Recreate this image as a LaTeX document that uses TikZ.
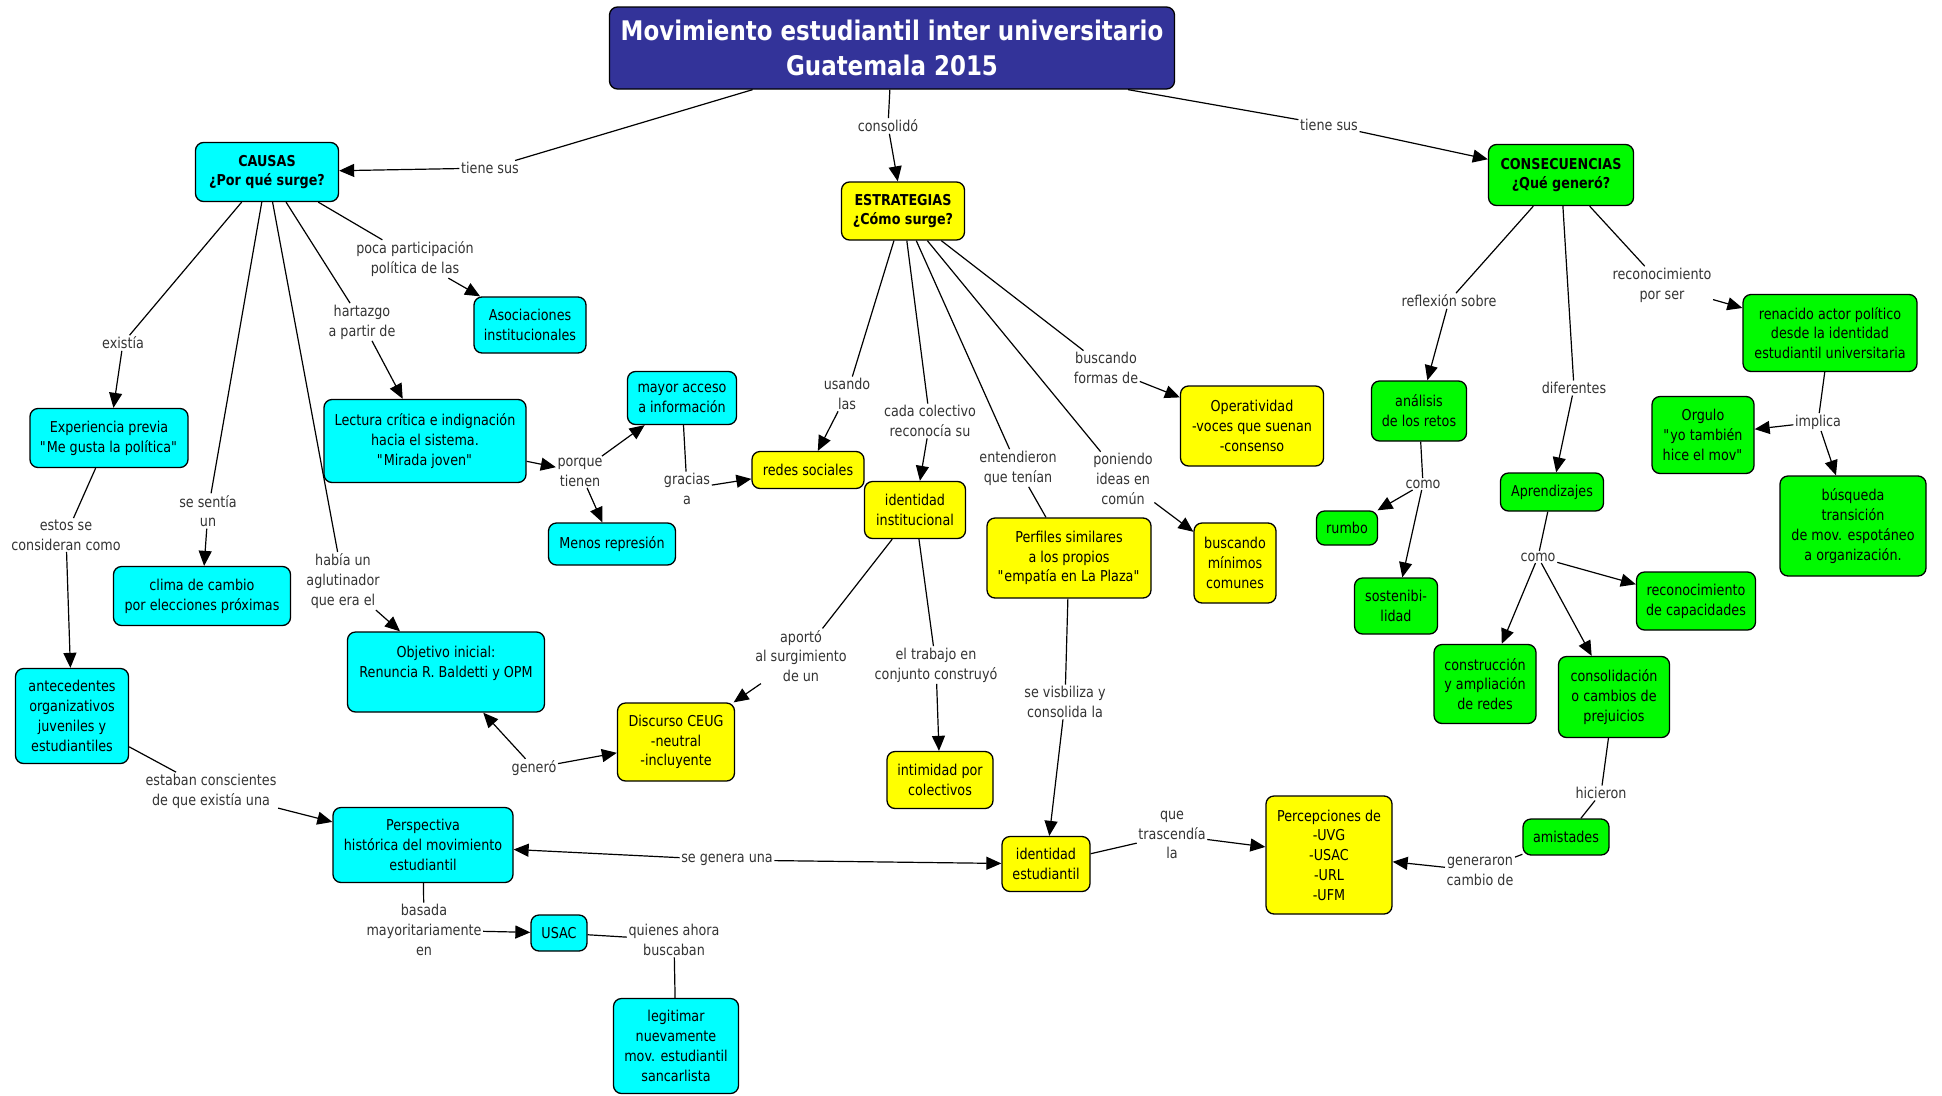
\documentclass[tikz,border=0pt]{standalone}
\usepackage{fontspec}
\setmainfont{DejaVu Sans}[FakeStretch=0.85]
\usepackage{tikz}
\usetikzlibrary{arrows.meta}
\definecolor{cmcyan}{RGB}{0,255,255}
\definecolor{cmyellow}{RGB}{255,255,0}
\definecolor{cmgreen}{RGB}{0,250,0}
\definecolor{cmtitle}{RGB}{51,51,153}
\newcommand{\qt}[1]{\textquotedbl#1\textquotedbl}
\tikzset{
  concept/.style  = {draw=black, line width=1.3pt, rounded corners=8pt, align=center,
                     inner sep=2pt, font=\fontsize{15}{19.8}\selectfont},
  cbox/.style     = {concept, fill=cmcyan},
  ybox/.style     = {concept, fill=cmyellow},
  gbox/.style     = {concept, fill=cmgreen},
  titlebox/.style = {concept, fill=cmtitle, text=white,
                     font=\fontsize{27}{35}\selectfont\bfseries},
  phrase/.style   = {align=center, inner sep=1.5pt, text=black!80,
                     font=\fontsize{15}{19.8}\selectfont},
  wire/.style     = {line width=1.2pt},
  vec/.style      = {wire, -{Triangle[length=15pt,width=13pt]}},
}

\begin{document}
\begin{tikzpicture}[x=1pt,y=-1pt]
  \useasboundingbox (0,0) rectangle (1942,1095);

  % concepts
  \node[titlebox, minimum width=565pt, minimum height=82pt] (mov) at (892,48)
    {Movimiento estudiantil inter universitario\\Guatemala 2015};
  \node[cbox, minimum width=143pt, minimum height=59pt] (causas) at (267,172)
    {\textbf{CAUSAS}\\\textbf{¿Por qué surge?}};
  \node[ybox, minimum width=123pt, minimum height=58pt] (estrat) at (903,211)
    {\textbf{ESTRATEGIAS}\\\textbf{¿Cómo surge?}};
  \node[gbox, minimum width=145pt, minimum height=61pt] (consec) at (1561,175)
    {\textbf{CONSECUENCIAS}\\\textbf{¿Qué generó?}};

  \node[cbox, minimum width=112pt, minimum height=56pt] (asoc) at (530,325)
    {Asociaciones\\institucionales};
  \node[cbox, minimum width=158pt, minimum height=59pt] (exper) at (109,438)
    {Experiencia previa\\\qt{Me gusta la política}};
  \node[cbox, minimum width=202pt, minimum height=83pt] (lectura) at (425,441)
    {Lectura crítica e indignación\\hacia el sistema.\\\qt{Mirada joven}};
  \node[cbox, minimum width=109pt, minimum height=53pt] (acceso) at (682,398)
    {mayor acceso\\a información};
  \node[cbox, minimum width=127pt, minimum height=42pt] (menos) at (612,544)
    {Menos represión};
  \node[cbox, minimum width=177pt, minimum height=59pt] (clima) at (202,596)
    {clima de cambio\\por elecciones próximas};
  \node[cbox, minimum width=197pt, minimum height=80pt] (objetivo) at (446,672)
    {Objetivo inicial:\\Renuncia R. Baldetti y OPM\\~};
  \node[cbox, minimum width=113pt, minimum height=95pt] (antec) at (72,716)
    {antecedentes\\organizativos\\juveniles y\\estudiantiles};
  \node[cbox, minimum width=180pt, minimum height=75pt] (perspect) at (423,845)
    {Perspectiva\\histórica del movimiento\\estudiantil};
  \node[cbox, minimum width=56pt, minimum height=36pt] (usac) at (559,933) {USAC};
  \node[cbox, minimum width=125pt, minimum height=95pt] (legit) at (676,1046)
    {legitimar\\nuevamente\\mov. estudiantil\\sancarlista};

  \node[ybox, minimum width=112pt, minimum height=37pt] (redes) at (808,470)
    {redes sociales};
  \node[ybox, minimum width=101pt, minimum height=57pt] (idinst) at (915,510)
    {identidad\\institucional};
  \node[ybox, minimum width=143pt, minimum height=80pt] (operat) at (1252,426)
    {Operatividad\\-voces que suenan\\-consenso};
  \node[ybox, minimum width=82pt, minimum height=80pt] (minimos) at (1235,563)
    {buscando\\mínimos\\comunes};
  \node[ybox, minimum width=164pt, minimum height=80pt] (perfiles) at (1069,558)
    {Perfiles similares\\a los propios\\\qt{empatía en La Plaza}};
  \node[ybox, minimum width=117pt, minimum height=78pt] (discurso) at (676,742)
    {Discurso CEUG\\-neutral\\-incluyente};
  \node[ybox, minimum width=106pt, minimum height=57pt] (intim) at (940,780)
    {intimidad por\\colectivos};
  \node[ybox, minimum width=88pt, minimum height=55pt] (idest) at (1046,864)
    {identidad\\estudiantil};
  \node[ybox, minimum width=126pt, minimum height=118pt] (percep) at (1329,855)
    {Percepciones de\\-UVG\\-USAC\\-URL\\-UFM};

  \node[gbox, minimum width=95pt, minimum height=60pt] (analisis) at (1419,411)
    {análisis\\de los retos};
  \node[gbox, minimum width=61pt, minimum height=34pt] (rumbo) at (1347,528) {rumbo};
  \node[gbox, minimum width=83pt, minimum height=56pt] (sosten) at (1396,606)
    {sostenibi-\\lidad};
  \node[gbox, minimum width=103pt, minimum height=38pt] (aprend) at (1552,492)
    {Aprendizajes};
  \node[gbox, minimum width=119pt, minimum height=58pt] (reccap) at (1696,601)
    {reconocimiento\\de capacidades};
  \node[gbox, minimum width=102pt, minimum height=79pt] (constr) at (1485,684)
    {construcción\\y ampliación\\de redes};
  \node[gbox, minimum width=111pt, minimum height=81pt] (consol) at (1614,697)
    {consolidación\\o cambios de\\prejuicios};
  \node[gbox, minimum width=86pt, minimum height=36pt] (amist) at (1566,837)
    {amistades};
  \node[gbox, minimum width=174pt, minimum height=77pt] (renac) at (1830,333)
    {renacido actor político\\desde la identidad\\estudiantil universitaria};
  \node[gbox, minimum width=102pt, minimum height=77pt] (orgulo) at (1703,435)
    {Orgulo\\\qt{yo también\\hice el mov}};
  \node[gbox, minimum width=146pt, minimum height=100pt] (busq) at (1853,526)
    {búsqueda\\transición\\de mov. espotáneo\\a organización.};

  % linking phrases
  \node[phrase] (l-tsl) at (490,168) {tiene sus};
  \node[phrase] (l-conso) at (888,126) {consolidó};
  \node[phrase] (l-tsr) at (1329,125) {tiene sus};
  \node[phrase] (l-poca) at (415,259) {poca participación\\política de las};
  \node[phrase] (l-hart) at (362,322) {hartazgo\\a partir de};
  \node[phrase] (l-exist) at (123,343) {existía};
  \node[phrase] (l-sent) at (208,511) {se sentía\\un};
  \node[phrase] (l-habia) at (343,581) {había un\\aglutinador\\que era el};
  \node[phrase] (l-estos) at (66,535) {estos se\\consideran como};
  \node[phrase] (l-estab) at (211,791) {estaban conscientes\\de que existía una};
  \node[phrase] (l-porq) at (580,472) {porque\\tienen};
  \node[phrase] (l-grac) at (687,489) {gracias\\a};
  \node[phrase] (l-usan) at (847,394) {usando\\las};
  \node[phrase] (l-cada) at (930,421) {cada colectivo\\reconocía su};
  \node[phrase] (l-ente) at (1018,468) {entendieron\\que tenían};
  \node[phrase] (l-poni) at (1123,479) {poniendo\\ideas en\\común};
  \node[phrase] (l-busc) at (1106,368) {buscando\\formas de};
  \node[phrase] (l-apor) at (801,656) {aportó\\al surgimiento\\de un};
  \node[phrase] (l-trab) at (936,665) {el trabajo en\\conjunto construyó};
  \node[phrase] (l-gene) at (534,768) {generó};
  \node[phrase] (l-visb) at (1065,702) {se visbiliza y\\consolida la};
  \node[phrase] (l-segen) at (727,860) {se genera una};
  \node[phrase] (l-tras) at (1172,835) {que\\trascendía\\la};
  \node[phrase] (l-genr) at (1480,871) {generaron\\cambio de};
  \node[phrase] (l-basa) at (424,930) {basada\\mayoritariamente\\en};
  \node[phrase] (l-quie) at (674,940) {quienes ahora\\buscaban};
  \node[phrase] (l-refl) at (1449,301) {reflexión sobre};
  \node[phrase] (l-dife) at (1574,388) {diferentes};
  \node[phrase] (l-reco) at (1662,285) {reconocimiento\\por ser};
  \node[phrase] (l-como) at (1423,484) {como};
  \node[phrase] (l-comob) at (1538,557) {como};
  \node[phrase] (l-hici) at (1601,793) {hicieron};
  \node[phrase] (l-impl) at (1818,422) {implica};

  % links
  \draw[wire] (mov) -- (l-tsl);   \draw[vec] (l-tsl) -- (causas);
  \draw[wire] (mov) -- (l-conso); \draw[vec] (l-conso) -- (estrat);
  \draw[wire] (mov) -- (l-tsr);   \draw[vec] (l-tsr) -- (consec);

  \draw[wire] (causas) -- (l-exist); \draw[vec] (l-exist) -- (exper);
  \draw[wire] (causas) -- (l-sent);  \draw[vec] (l-sent) -- (clima);
  \draw[wire] (causas) -- (l-habia); \draw[vec] (l-habia) -- (objetivo);
  \draw[wire] (causas) -- (l-hart);  \draw[vec] (l-hart) -- (lectura);
  \draw[wire] (causas) -- (l-poca);  \draw[vec] (l-poca) -- (asoc);
  \draw[wire] (exper) -- (l-estos);  \draw[vec] (l-estos) -- (antec);
  \draw[wire] (antec) -- (l-estab);  \draw[vec] (l-estab) -- (perspect);
  \draw[vec] (lectura) -- (l-porq);
  \draw[vec] (l-porq) -- (acceso);   \draw[vec] (l-porq) -- (menos);
  \draw[wire] (acceso) -- (l-grac);  \draw[vec] (l-grac) -- (redes);

  \draw[wire] (estrat) -- (l-usan);  \draw[vec] (l-usan) -- (redes);
  \draw[wire] (estrat) -- (l-cada);  \draw[vec] (l-cada) -- (idinst);
  \draw[wire] (estrat) -- (l-ente);  \draw[wire] (l-ente) -- (perfiles);
  \draw[wire] (estrat) -- (l-poni);  \draw[vec] (l-poni) -- (minimos);
  \draw[wire] (estrat) -- (l-busc);  \draw[vec] (l-busc) -- (operat);
  \draw[wire] (idinst) -- (l-apor);  \draw[vec] (l-apor) -- (discurso);
  \draw[wire] (idinst) -- (l-trab);  \draw[vec] (l-trab) -- (intim);
  \draw[vec] (l-gene) -- (objetivo); \draw[vec] (l-gene) -- (discurso);
  \draw[wire] (perfiles) -- (l-visb); \draw[vec] (l-visb) -- (idest);
  \draw[vec] (l-segen) -- (perspect); \draw[vec] (l-segen) -- (idest);
  \draw[wire] (idest) -- (l-tras);   \draw[vec] (l-tras) -- (percep);
  \draw[wire] (amist) -- (l-genr);   \draw[vec] (l-genr) -- (percep);
  \draw[wire] (perspect) -- (l-basa); \draw[vec] (l-basa) -- (usac);
  \draw[wire] (usac) -- (l-quie);    \draw[wire] (l-quie) -- (legit);

  \draw[wire] (consec) -- (l-refl);  \draw[vec] (l-refl) -- (analisis);
  \draw[wire] (consec) -- (l-dife);  \draw[vec] (l-dife) -- (aprend);
  \draw[wire] (consec) -- (l-reco);  \draw[vec] (l-reco) -- (renac);
  \draw[wire] (analisis) -- (l-como);
  \draw[vec] (l-como) -- (rumbo);    \draw[vec] (l-como) -- (sosten);
  \draw[wire] (aprend) -- (l-comob);
  \draw[vec] (l-comob) -- (reccap);  \draw[vec] (l-comob) -- (constr);
  \draw[vec] (l-comob) -- (consol);
  \draw[wire] (consol) -- (l-hici);  \draw[wire] (l-hici) -- (amist);
  \draw[wire] (renac) -- (l-impl);
  \draw[vec] (l-impl) -- (orgulo);   \draw[vec] (l-impl) -- (busq);
\end{tikzpicture}
\end{document}
